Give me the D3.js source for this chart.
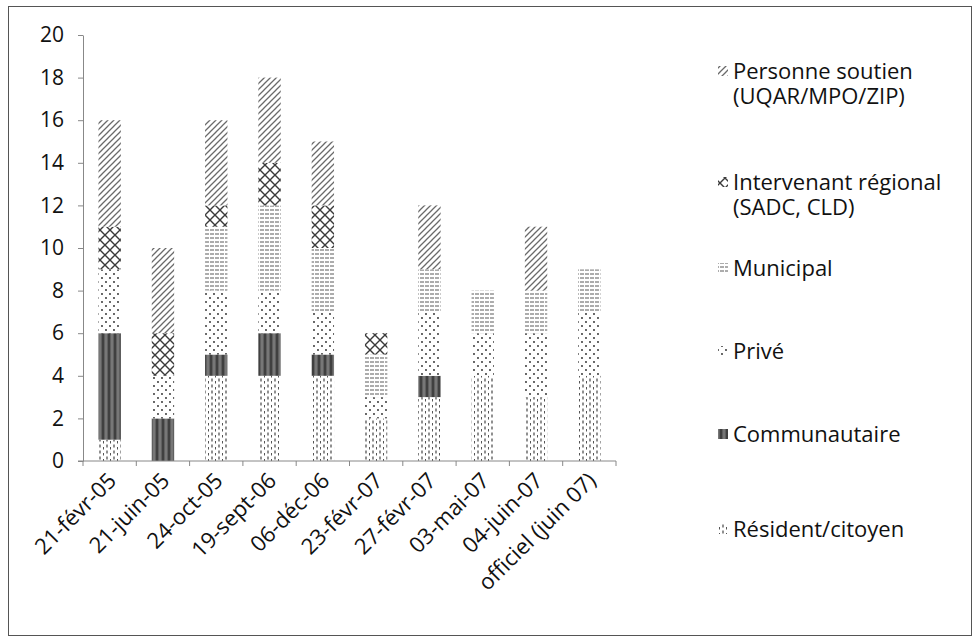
<!DOCTYPE html>
<html><head><meta charset="utf-8">
<script src="https://cdn.jsdelivr.net/npm/d3@7"></script>
<style>
body{margin:0;background:#fff}
text{font-family:'Open Sans',sans-serif;fill:#111}
</style>
</head><body>
<svg id="chart" width="974" height="640"></svg>
<script>
// Participants par rencontre, empilés par catégorie d'acteur
const categories = ["21-févr-05","21-juin-05","24-oct-05","19-sept-06","06-déc-06","23-févr-07","27-févr-07","03-mai-07","04-juin-07","officiel (juin 07)"];
const resident      = [1,0,4,4,4,2,3,4,3,4];
const communautaire = [5,2,1,2,1,0,1,0,0,0];
const prive         = [3,2,3,2,2,1,3,2,3,3];
const municipal     = [0,0,3,4,3,2,2,2,2,2];
const intervenant   = [2,2,1,2,2,1,0,0,0,0];
const personne      = [5,4,4,4,3,0,3,0,3,0];
const yTicks = [0,2,4,6,8,10,12,14,16,18,20];

const seriesKeys = ["resident","communautaire","prive","municipal","intervenant","personne"];
const seriesValues = {resident, communautaire, prive, municipal, intervenant, personne};
const legendLabels = {
  personne: ["Personne soutien","(UQAR/MPO/ZIP)"],
  intervenant: ["Intervenant régional","(SADC, CLD)"],
  municipal: ["Municipal"],
  prive: ["Privé"],
  communautaire: ["Communautaire"],
  resident: ["Résident/citoyen"]
};

const svg = d3.select("#chart");
const defs = svg.append("defs");

// hatch fills for each series
function pattern(id, w, h, draw) {
  const p = defs.append("pattern").attr("id", id)
    .attr("patternUnits", "userSpaceOnUse").attr("width", w).attr("height", h);
  p.append("rect").attr("width", w).attr("height", h).attr("fill", "#fff");
  draw(p);
}
pattern("p-personne", 6, 6, p => {
  p.append("path").attr("d", "M-1,7 L7,-1 M-1,1 L1,-1 M5,7 L7,5")
    .attr("stroke", "#6a6a6a").attr("stroke-width", 1.3);
});
pattern("p-intervenant", 10, 10, p => {
  p.append("path").attr("d", "M0,0 L10,10 M10,0 L0,10")
    .attr("stroke", "#3a3a3a").attr("stroke-width", 1.4);
});
pattern("p-municipal", 5, 4, p => {
  p.append("path").attr("d", "M0,2 L4,2")
    .attr("stroke", "#5a5a5a").attr("stroke-width", 1);
});
pattern("p-prive", 8, 8, p => {
  p.append("circle").attr("cx", 2).attr("cy", 2).attr("r", 0.9).attr("fill", "#222");
  p.append("circle").attr("cx", 6).attr("cy", 6).attr("r", 0.9).attr("fill", "#222");
});
pattern("p-communautaire", 6, 4, p => {
  p.select("rect").attr("fill", "#606060");
  p.append("path").attr("d", "M1,0 L1,4").attr("stroke", "#2e2e2e").attr("stroke-width", 1.3);
  p.append("path").attr("d", "M4,0 L4,4").attr("stroke", "#999").attr("stroke-width", 0.8);
});
pattern("p-resident", 7, 6, p => {
  p.append("path").attr("d", "M2,0.5 L2,3.5").attr("stroke", "#333").attr("stroke-width", 1.1);
  p.append("path").attr("d", "M5.5,3 L5.5,5.5").attr("stroke", "#555").attr("stroke-width", 1);
});

// outer frame
svg.append("rect").attr("x", 8.5).attr("y", 6.5).attr("width", 963).attr("height", 629)
  .attr("fill", "none").attr("stroke", "#555").attr("stroke-width", 1);

const x = d3.scaleBand().domain(categories).range([83, 616])
  .paddingInner(0.58).paddingOuter(0.29);
const y = d3.scaleLinear().domain([0, 20]).range([461, 35]);

const table = categories.map((c, i) => {
  const row = {cat: c};
  seriesKeys.forEach(k => row[k] = seriesValues[k][i]);
  return row;
});
const stacked = d3.stack().keys(seriesKeys)(table);

svg.append("g").selectAll("g").data(stacked).join("g")
  .attr("fill", d => `url(#p-${d.key})`)
  .selectAll("rect").data(d => d.filter(s => s[1] > s[0])).join("rect")
  .attr("x", d => x(d.data.cat))
  .attr("width", x.bandwidth())
  .attr("y", d => y(d[1]))
  .attr("height", d => y(d[0]) - y(d[1]));

// y axis
const yAxis = svg.append("g").attr("transform", "translate(83,0)")
  .call(d3.axisLeft(y).tickValues(yTicks).tickSize(5).tickPadding(14).tickSizeOuter(0));
yAxis.select(".domain").attr("stroke", "#888");
yAxis.selectAll(".tick line").attr("stroke", "#888");
yAxis.selectAll(".tick text").attr("font-size", 21).attr("font-family", "'Open Sans',sans-serif").attr("fill", "#111");

// x axis with ticks between categories
const xAxisG = svg.append("g");
xAxisG.append("line").attr("x1", 78).attr("x2", 616).attr("y1", 461).attr("y2", 461)
  .attr("stroke", "#888");
const step = x.step();
d3.range(categories.length + 1).forEach(i => {
  const xx = 83 + i * step;
  xAxisG.append("line").attr("x1", xx).attr("x2", xx).attr("y1", 461).attr("y2", 466)
    .attr("stroke", "#888");
});
xAxisG.selectAll("text").data(categories).join("text")
  .attr("transform", d => `translate(${x(d) + x.bandwidth() / 2 + 8},${482}) rotate(-45)`)
  .attr("text-anchor", "end")
  .attr("font-size", 22)
  .text(d => d);

// legend
const legendY = {personne: 72, intervenant: 183, municipal: 269, prive: 352, communautaire: 435, resident: 530};
const legend = svg.append("g");
seriesKeys.slice().reverse().forEach(k => {
  const g = legend.append("g").attr("transform", `translate(0,${legendY[k]})`);
  g.append("rect").attr("x", 718).attr("y", -6).attr("width", 10).attr("height", 10)
    .attr("fill", `url(#p-${k})`);
  const t = g.append("text").attr("x", 733).attr("y", 7).attr("font-size", 22);
  legendLabels[k].forEach((line, j) => {
    t.append("tspan").attr("x", 733).attr("dy", j === 0 ? 0 : 25).text(line);
  });
});
</script>
</body></html>
